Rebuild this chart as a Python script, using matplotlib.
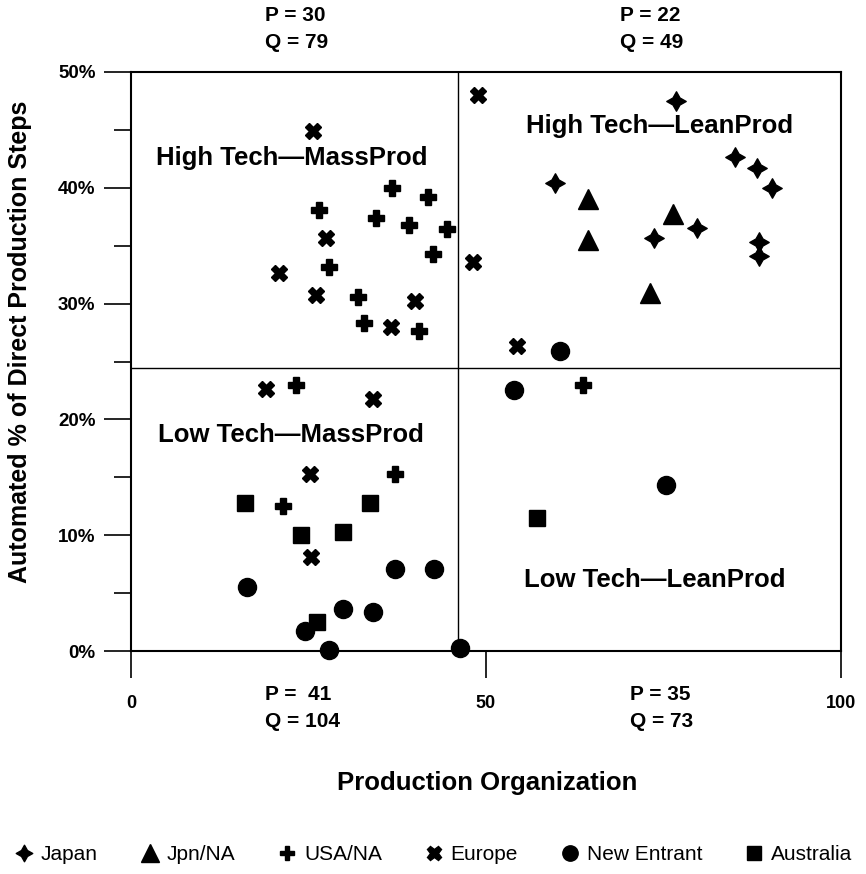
import matplotlib.pyplot as plt
from matplotlib.path import Path
from matplotlib.lines import Line2D

plt.rcParams['font.family'] = ['Liberation Sans', 'DejaVu Sans']

# production organization score (x) vs automated % of direct steps (y)
japan_x = [59.7, 76.8, 85.0, 88.1, 90.3, 79.7, 73.7, 88.4, 88.4]
japan_y = [40.4, 47.5, 42.7, 41.7, 40.0, 36.5, 35.7, 35.3, 34.1]

jpn_na_x = [64.4, 64.3, 76.4, 73.1]
jpn_na_y = [39.0, 35.5, 37.7, 30.9]

usa_na_x = [36.7, 41.8, 26.5, 34.5, 39.2, 44.5, 42.5, 27.9, 32.0, 32.8, 40.5,
            23.3, 37.2, 21.4, 63.6]
usa_na_y = [40.0, 39.2, 38.1, 37.4, 36.8, 36.4, 34.3, 33.2, 30.6, 28.3, 27.6,
            23.0, 15.3, 12.5, 23.0]

europe_x = [25.7, 27.5, 20.9, 26.1, 40.0, 36.6, 48.9, 48.2, 54.4, 19.0, 34.1,
            25.2, 25.3]
europe_y = [44.9, 35.7, 32.6, 30.7, 30.2, 28.0, 48.0, 33.6, 26.3, 22.6, 21.8,
            15.3, 8.1]

new_x = [60.4, 53.9, 75.4, 46.4, 16.3, 37.2, 42.7, 29.8, 34.1, 24.5, 27.9]
new_y = [25.9, 22.5, 14.3, 0.3, 5.5, 7.1, 7.1, 3.6, 3.4, 1.7, 0.1]

aus_x = [16.1, 33.6, 24.0, 29.8, 26.2, 57.2]
aus_y = [12.8, 12.8, 10.0, 10.3, 2.5, 11.5]

# quadrant split
x_split = 46.0
y_split = 24.45

quad_labels = ["High Tech\u2014MassProd", "High Tech\u2014LeanProd",
               "Low Tech\u2014MassProd", "Low Tech\u2014LeanProd"]
quad_pos = [(22.6, 42.6), (74.5, 45.3), (22.5, 18.65), (73.7, 6.1)]

pq_texts = ["P = 30\nQ = 79", "P = 22\nQ = 49", "P =  41\nQ = 104", "P = 35\nQ = 73"]
pq_pos = [(18.9, 53.7), (68.9, 53.7), (18.9, -4.9), (70.3, -4.9)]

# four point star for Japan (diamond with slightly pinched sides)
star = Path([(0, 1), (0.36, 0.36), (1, 0), (0.36, -0.36), (0, -1),
             (-0.36, -0.36), (-1, 0), (-0.36, 0.36), (0, 1)],
            [Path.MOVETO] + [Path.LINETO] * 7 + [Path.CLOSEPOLY])

series = [
    ("Japan", japan_x, japan_y, star, 14),
    ("Jpn/NA", jpn_na_x, jpn_na_y, "^", 15),
    ("USA/NA", usa_na_x, usa_na_y, "P", 12),
    ("Europe", europe_x, europe_y, "X", 12),
    ("New Entrant", new_x, new_y, "o", 13),
    ("Australia", aus_x, aus_y, "s", 12),
]

fig = plt.figure(figsize=(8.66, 8.74), dpi=100)
ax = fig.add_axes([131 / 866, 1 - 651 / 874, 710 / 866, 579 / 874])

handles = []
for name, xs, ys, mk, ms in series:
    ax.plot(xs, ys, linestyle="none", marker=mk, markersize=ms, color="black",
            clip_on=False, zorder=3)
    handles.append(Line2D([], [], linestyle="none", marker=mk, color="black",
                          markersize=ms * 0.85, label=name))

ax.axvline(x_split, color="black", lw=1.0, zorder=1)
ax.axhline(y_split, color="black", lw=1.0, zorder=1)

ax.set_xlim(0, 100)
ax.set_ylim(0, 50)
ax.set_xticks([0, 50, 100])
ax.set_xticklabels(["0", "50", "100"], fontweight="bold", fontsize=13)
ax.set_yticks([0, 10, 20, 30, 40, 50])
ax.set_yticklabels(["0%", "10%", "20%", "30%", "40%", "50%"],
                   fontweight="bold", fontsize=13.5)
ax.set_yticks([5, 15, 25, 35, 45], minor=True)
ax.tick_params(axis="both", which="major", direction="out", length=19.5,
               width=1.2, pad=6)
ax.tick_params(axis="x", which="major", pad=12)
ax.tick_params(axis="y", which="minor", direction="out", length=12, width=1.2)
for sp in ax.spines.values():
    sp.set_linewidth(1.5)

for txt, (tx, ty) in zip(quad_labels, quad_pos):
    ax.text(tx, ty, txt, ha="center", va="center", fontsize=18.5,
            fontweight="bold")

for txt, (tx, ty) in zip(pq_texts, pq_pos):
    ax.text(tx, ty, txt, ha="left", va="center", fontsize=15,
            fontweight="bold", linespacing=1.55, clip_on=False)

fig.text(487 / 866, 1 - 783 / 874, "Production Organization", ha="center",
         va="center", fontsize=18.5, fontweight="bold")
fig.text(20 / 866, 1 - 342 / 874, "Automated % of Direct Production Steps",
         ha="center", va="center", rotation=90, fontsize=18, fontweight="bold")

fig.legend(handles=handles, loc="center", bbox_to_anchor=(0.5, 1 - 855 / 874),
           ncol=6, frameon=False, fontsize=15, handlelength=1.0,
           handletextpad=0.3, columnspacing=2.0)

fig.savefig("out.png", dpi=100)
